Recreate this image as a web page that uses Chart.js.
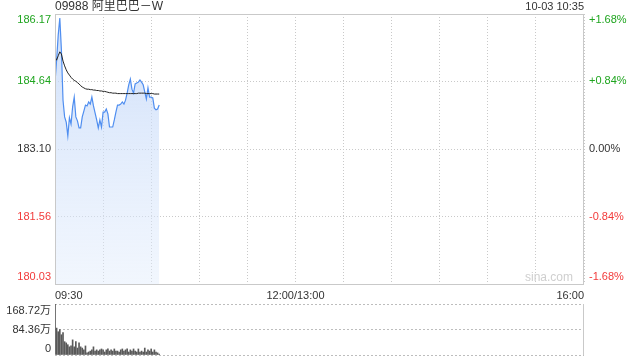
<!DOCTYPE html>
<html>
<head>
<meta charset="utf-8">
<script src="https://cdn.jsdelivr.net/npm/chart.js@4/dist/chart.umd.min.js"></script>
<style>
  html, body { margin: 0; padding: 0; background: #fff; }
  #wrap { position: relative; width: 640px; height: 360px; }
  #price { position: absolute; left: 0; top: 0; }
  #vol { position: absolute; left: 0; top: 296px; }
</style>
</head>
<body>
<div id="wrap">
  <canvas id="price" width="640" height="300"></canvas>
  <canvas id="vol" width="640" height="64"></canvas>
</div>
<script>
var title = "09988 阿里巴巴－W";
var stamp = "10-03 10:35";
var prevClose = 183.10;

// price axis ticks (left) and percent labels (right)
var priceTicks = [180.03, 181.56, 183.10, 184.64, 186.17];
var priceLabels = ["180.03", "181.56", "183.10", "184.64", "186.17"];
var pctLabels = ["-1.68%", "-0.84%", "0.00%", "+0.84%", "+1.68%"];

// session minutes from 09:30 (lunch removed), grid every 30 min
var gridMinutes = [0, 30, 60, 90, 120, 150, 180, 210, 240, 270, 300, 330];
var timeTickMinutes = [0, 150, 330];
var timeLabels = ["09:30", "12:00/13:00", "16:00"];

// one value per minute, 09:30 -> 10:35
var prices = [184.62, 185.12, 185.69, 186.08, 185.35, 184.21, 183.83, 183.71, 183.40, 183.81,
  183.67, 184.06, 184.28, 183.83, 183.74, 183.58, 183.58, 183.83, 183.96, 184.10,
  184.08, 184.17, 184.12, 184.28, 184.08, 183.92, 183.76, 183.58, 183.76, 183.60,
  183.94, 183.94, 184.01, 183.90, 183.60, 183.60, 183.60, 183.76, 183.94, 184.10,
  184.10, 184.12, 184.17, 184.12, 184.21, 184.37, 184.56, 184.69, 184.46, 184.37,
  184.58, 184.60, 184.62, 184.67, 184.62, 184.56, 184.40, 184.24, 184.49, 184.28,
  184.28, 184.26, 184.03, 183.99, 184.01, 184.10];

var avgPrices = [185.19, 185.12, 185.22, 185.31, 185.26, 185.10, 184.99, 184.90, 184.83, 184.78,
  184.73, 184.69, 184.66, 184.64, 184.61, 184.58, 184.54, 184.51, 184.49, 184.47,
  184.46, 184.46, 184.45, 184.45, 184.44, 184.44, 184.43, 184.43, 184.42, 184.42,
  184.41, 184.41, 184.40, 184.39, 184.38, 184.38, 184.37, 184.37, 184.37, 184.36,
  184.36, 184.36, 184.36, 184.36, 184.36, 184.36, 184.36, 184.36, 184.36, 184.36,
  184.36, 184.36, 184.37, 184.37, 184.37, 184.37, 184.37, 184.36, 184.36, 184.36,
  184.36, 184.36, 184.35, 184.35, 184.35, 184.35];

// volume in 万 shares
var volumes = [168.72, 89, 77, 84, 67, 74, 44, 40, 34, 27,
  30, 50, 27, 44, 23, 40, 27, 23, 17, 30,
  7, 10, 13, 17, 27, 13, 17, 13, 17, 20,
  17, 10, 17, 20, 13, 17, 13, 20, 13, 13,
  10, 17, 20, 13, 17, 20, 10, 17, 13, 20,
  13, 10, 20, 10, 13, 10, 23, 10, 17, 13,
  20, 10, 17, 10, 7, 3];
var volTicks = [0, 84.36, 168.72];
var volLabels = ["0", "84.36万", "168.72万"];

var FONT = '"Liberation Sans", Arial, "Noto Sans CJK SC", sans-serif';
var GREEN = "#1fa51f", RED = "#f23a3a", DARK = "#333";
var FRAME = "#c9c9c9";

var toXY = function(arr) {
  return arr.map(function(v, i) { return { x: i, y: v }; });
};

var colorFor = function(v) {
  if (Math.abs(v - prevClose) < 0.005) return DARK;
  return v > prevClose ? GREEN : RED;
};

// labels at the grid lines; first/last sit inside the frame
var sideLabels = {
  id: "sideLabels",
  afterDraw: function(chart) {
    var ctx = chart.ctx, y = chart.scales.y, area = chart.chartArea;
    ctx.save();
    ctx.font = "11px " + FONT;
    ctx.textBaseline = "middle";
    priceTicks.forEach(function(v, i) {
      var py = y.getPixelForValue(v);
      if (i === 0) py -= 7;
      if (i === priceTicks.length - 1) py += 6;
      ctx.fillStyle = colorFor(v);
      ctx.textAlign = "right";
      ctx.fillText(priceLabels[i], area.left - 4, py);
      ctx.textAlign = "left";
      ctx.fillText(pctLabels[i], area.right + 5, py);
    });
    // title + time stamp
    ctx.fillStyle = DARK;
    ctx.font = "12px " + FONT;
    ctx.textAlign = "left";
    ctx.fillText(title, area.left, 7);
    ctx.font = "11px " + FONT;
    ctx.textAlign = "right";
    ctx.fillText(stamp, area.right, 7);
    // watermark
    ctx.fillStyle = "#cfcfcf";
    ctx.font = "12px " + FONT;
    ctx.fillText("sina.com", area.right - 11, area.bottom - 6);
    // frame
    ctx.strokeStyle = FRAME;
    ctx.lineWidth = 1;
    ctx.strokeRect(Math.round(area.left) + 0.5, Math.round(area.top) + 0.5,
      Math.round(area.right - area.left) - 1, Math.round(area.bottom - area.top));
    ctx.restore();
  }
};

var fillGradient = function(context) {
  var area = context.chart.chartArea;
  if (!area) return "rgba(200,220,250,0.5)";
  var g = context.chart.ctx.createLinearGradient(0, area.top, 0, area.bottom);
  g.addColorStop(0, "rgba(190,212,248,0.75)");
  g.addColorStop(1, "rgba(225,236,252,0.45)");
  return g;
};

new Chart(document.getElementById("price"), {
  type: "line",
  data: {
    datasets: [{
      data: toXY(avgPrices),
      borderColor: "#222",
      borderWidth: 1,
      pointRadius: 0,
      fill: false,
      order: 0
    }, {
      data: toXY(prices),
      borderColor: "#4f8ef0",
      borderWidth: 1.2,
      backgroundColor: fillGradient,
      pointRadius: 0,
      fill: "start",
      order: 1
    }]
  },
  options: {
    responsive: false,
    animation: false,
    layout: { padding: { top: 14, left: 0, right: 0, bottom: 0 } },
    plugins: { legend: { display: false }, tooltip: { enabled: false } },
    scales: {
      x: {
        type: "linear",
        min: 0,
        max: 330,
        offset: false,
        afterBuildTicks: function(scale) {
          scale.ticks = gridMinutes.map(function(v) { return { value: v }; });
        },
        afterFit: function(scale) { scale.height = 16; },
        grid: { color: FRAME, drawTicks: false },
        border: { display: false, dash: [1, 2] },
        ticks: {
          align: "inner",
          padding: 5,
          maxRotation: 0,
          autoSkip: false,
          color: DARK,
          font: { size: 11, family: FONT },
          callback: function(v) {
            var k = timeTickMinutes.indexOf(v);
            return k >= 0 ? timeLabels[k] : "";
          }
        }
      },
      y: {
        position: "left",
        min: priceTicks[0],
        max: priceTicks[priceTicks.length - 1],
        afterBuildTicks: function(scale) {
          scale.ticks = priceTicks.map(function(v) { return { value: v }; });
        },
        afterFit: function(scale) { scale.width = 55; },
        grid: { color: FRAME, drawTicks: false },
        border: { display: false, dash: [1, 2] },
        ticks: { display: false }
      },
      y2: {
        position: "right",
        min: priceTicks[0],
        max: priceTicks[priceTicks.length - 1],
        afterFit: function(scale) { scale.width = 56; },
        grid: { display: false },
        border: { display: false },
        ticks: { display: false }
      }
    }
  },
  plugins: [sideLabels]
});

var volLabelsPlugin = {
  id: "volLabels",
  afterDraw: function(chart) {
    var ctx = chart.ctx, y = chart.scales.y, area = chart.chartArea;
    ctx.save();
    ctx.font = "11px " + FONT;
    ctx.fillStyle = DARK;
    ctx.textAlign = "right";
    ctx.textBaseline = "middle";
    volTicks.forEach(function(v, i) {
      var py = y.getPixelForValue(v);
      if (i === 0) py -= 6;
      if (i === volTicks.length - 1) py += 7;
      ctx.fillText(volLabels[i], area.left - 4, py);
    });
    ctx.strokeStyle = FRAME;
    ctx.lineWidth = 1;
    ctx.beginPath();
    ctx.moveTo(Math.round(area.right) - 0.5, area.top);
    ctx.lineTo(Math.round(area.right) - 0.5, area.bottom);
    ctx.stroke();
    ctx.restore();
  }
};

new Chart(document.getElementById("vol"), {
  type: "bar",
  data: {
    datasets: [{
      data: toXY(volumes),
      backgroundColor: "#595959",
      barThickness: 1
    }]
  },
  options: {
    responsive: false,
    animation: false,
    layout: { padding: { top: 8, bottom: 5, left: 0, right: 0 } },
    plugins: { legend: { display: false }, tooltip: { enabled: false } },
    scales: {
      x: {
        type: "linear",
        min: 0,
        max: 330,
        offset: false,
        display: false,
        grid: { offset: false }
      },
      y: {
        position: "left",
        min: 0,
        max: volTicks[volTicks.length - 1],
        afterBuildTicks: function(scale) {
          scale.ticks = volTicks.map(function(v) { return { value: v }; });
        },
        afterFit: function(scale) { scale.width = 55; },
        grid: { color: "#bdbdbd", drawTicks: false, lineWidth: 1 },
        border: { display: false, dash: [2, 2] },
        ticks: { display: false }
      },
      y2: {
        position: "right",
        min: 0,
        max: volTicks[volTicks.length - 1],
        afterFit: function(scale) { scale.width = 56; },
        grid: { display: false },
        border: { display: false },
        ticks: { display: false }
      }
    }
  },
  plugins: [volLabelsPlugin]
});
</script>
</body>
</html>
